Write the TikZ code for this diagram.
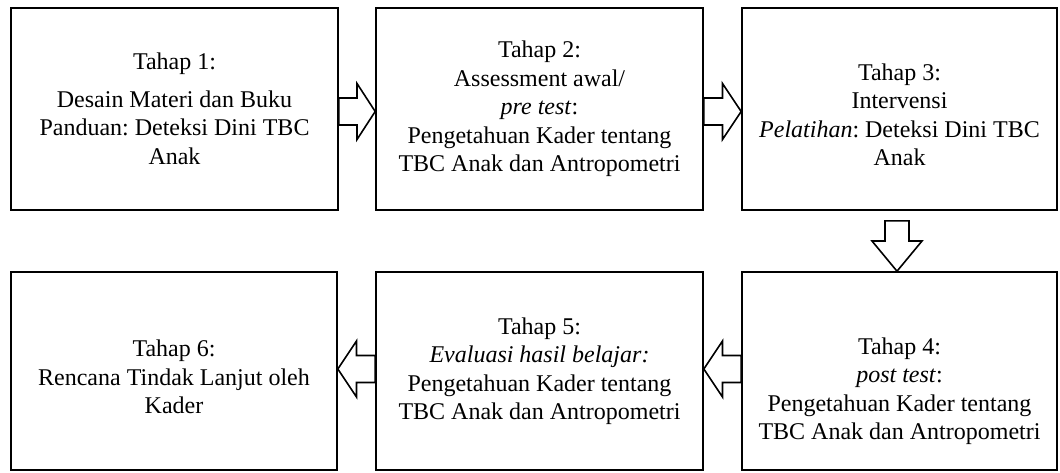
\documentclass[tikz,border=0pt]{standalone}
\usepackage{fontspec}
\setmainfont{Liberation Serif}
\usetikzlibrary{calc,positioning}
\tikzset{%
	tahap/.style = {draw, rectangle, line width=1.6pt, minimum height=202pt, align=center, inner sep=0pt, font=\fontsize{24}{28.5}\selectfont},
	blok/.style  = {draw, line width=1.6pt, fill=white, line join=miter},
}
\frenchspacing
\begin{document}
\begin{tikzpicture}[x=1pt,y=1pt]
	\useasboundingbox (0,0) rectangle (1060,472);
	% baris atas
	\node[tahap, minimum width=327pt] (t1) at (174.5,363) {Tahap 1:\\[9pt] Desain Materi dan Buku\\ Panduan: Deteksi Dini TBC\\ Anak};
	\node[tahap, minimum width=327pt] (t2) at (539.5,363) {Tahap 2:\\ Assessment awal/\\ \textit{pre test}:\\ Pengetahuan Kader tentang\\ TBC Anak dan Antropometri};
	\node[tahap, minimum width=315pt] (t3) at (899.5,363) {\mbox{}\\ Tahap 3:\\ Intervensi\\ \textit{Pelatihan}: Deteksi Dini TBC\\ Anak};
	% baris bawah
	\node[tahap, minimum width=315pt, minimum height=198pt] (t4) at (899.5,101) {\mbox{}\\ \mbox{}\\ Tahap 4:\\ \textit{post test}:\\ Pengetahuan Kader tentang\\ TBC Anak dan Antropometri};
	\node[tahap, minimum width=327pt, minimum height=198pt] (t5) at (539.5,101) {Tahap 5:\\ \textit{Evaluasi hasil belajar:}\\ Pengetahuan Kader tentang\\ TBC Anak dan Antropometri};
	\node[tahap, minimum width=326pt, minimum height=198pt] (t6) at (174,101) {\mbox{}\\ Tahap 6:\\ Rencana Tindak Lanjut oleh\\ Kader};
	% panah
	\coordinate (m12) at ($(t1.east)!.5!(t2.west)$);
	\coordinate (m23) at ($(t2.east)!.5!(t3.west)$);
	\coordinate (m34) at ($(t3.south)!.5!(t4.north)$);
	\coordinate (m45) at ($(t4.west)!.5!(t5.east)$);
	\coordinate (m56) at ($(t5.west)!.5!(t6.east)$);
	\draw[blok] ($(t1.east)+(0,11)$) -- ($(m12)+(0,11)$) -- ($(m12)+(0,25.5)$) -- ($(t2.west)+(0,-2.5)$) -- ($(m12)+(0,-30.5)$) -- ($(m12)+(0,-16)$) -- ($(t1.east)+(0,-16)$) -- cycle;
	\draw[blok] ($(t2.east)+(0,11)$) -- ($(m23)+(0,11)$) -- ($(m23)+(0,25.5)$) -- ($(t3.west)+(0,-2.5)$) -- ($(m23)+(0,-30.5)$) -- ($(m23)+(0,-16)$) -- ($(t2.east)+(0,-16)$) -- cycle;
	\draw[blok] ($(t3.south)+(-14.5,-10)$) -- ($(t3.south)+(9.5,-10)$) -- ($(m34)+(9.5,0)$) -- ($(m34)+(22.5,0)$) -- ($(t4.north)+(-2.5,0)$) -- ($(m34)+(-27.5,0)$) -- ($(m34)+(-14.5,0)$) -- cycle;
	\draw[blok] ($(t4.west)+(0,15.5)$) -- ($(m45)+(0,15.5)$) -- ($(m45)+(0,30)$) -- ($(t5.east)+(0,2)$) -- ($(m45)+(0,-26)$) -- ($(m45)+(0,-11.5)$) -- ($(t4.west)+(0,-11.5)$) -- cycle;
	\draw[blok] ($(t5.west)+(0,15.5)$) -- ($(m56)+(0,15.5)$) -- ($(m56)+(0,30)$) -- ($(t6.east)+(0,2)$) -- ($(m56)+(0,-26)$) -- ($(m56)+(0,-11.5)$) -- ($(t5.west)+(0,-11.5)$) -- cycle;
\end{tikzpicture}
\end{document}
